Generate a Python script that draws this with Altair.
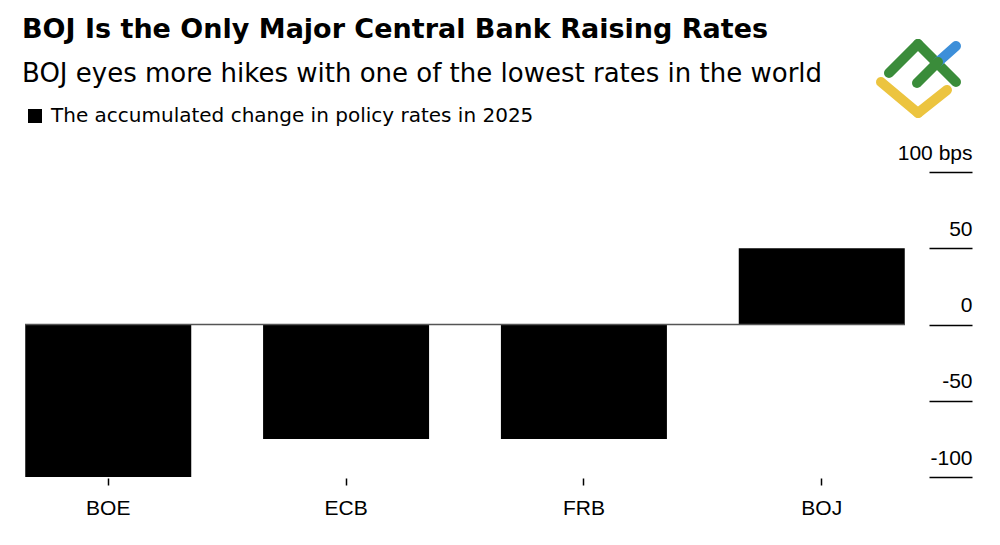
import altair as alt
import pandas as pd

banks = ["BOE", "ECB", "FRB", "BOJ"]
changes_bps = [-100, -75, -75, 50]
series_name = "The accumulated change in policy rates in 2025"
y_ticks = [-100, -50, 0, 50, 100]

df = pd.DataFrame({"bank": banks, "change": changes_bps, "series": [series_name] * len(banks)})

FONT = "Liberation Sans"
HFONT = "DejaVu Sans"
W, H = 880, 305

bars = alt.Chart(df).mark_bar(size=166).encode(
    x=alt.X("bank:N", sort=banks, title=None,
            scale=alt.Scale(paddingInner=0.3, paddingOuter=0),
            axis=alt.Axis(domain=False, tickSize=7, tickWidth=1.5, tickColor="#000",
                          labelFontSize=21, labelFont=FONT, labelColor="#000",
                          labelPadding=12, labelAngle=0, offset=1)),
    y=alt.Y("change:Q", title=None,
            scale=alt.Scale(domain=[-100, 100], nice=False),
            axis=alt.Axis(orient="right", values=y_ticks, domain=False, grid=False,
                          offset=24, tickSize=43, tickWidth=1.5, tickColor="#000",
                          labelAlign="right", labelBaseline="alphabetic", labelPadding=0,
                          labelOffset=-13, labelFontSize=21, labelFont=FONT, labelColor="#000",
                          labelExpr="datum.value == 100 ? '100 bps' : '' + datum.value")),
    color=alt.Color("series:N", title=None,
                    scale=alt.Scale(range=["#000000"]),
                    legend=alt.Legend(orient="none", legendX=0, legendY=-66,
                                      symbolType="square", symbolSize=196, symbolStrokeWidth=0,
                                      labelFontSize=20, labelFont=HFONT, labelColor="#000",
                                      labelOffset=6, labelLimit=0, padding=0)),
)

zero = alt.Chart(pd.DataFrame({"z": [0]})).mark_rule(color="#555", strokeWidth=1.3).encode(
    y="z:Q"
)

one = pd.DataFrame({"a": [0]})
def seg(x1, y1, x2, y2, color):
    return alt.Chart(one).mark_rule(color=color, strokeWidth=10, strokeCap="round").encode(
        x=alt.value(x1), y=alt.value(y1), x2=alt.value(x2), y2=alt.value(y2))

GREEN, BLUE, YELLOW = "#3a8c3a", "#3d8fd9", "#ecc43f"
logo = [
    seg(856, -90, 893, -59, YELLOW),
    seg(893, -59, 922, -82, YELLOW),
    seg(864, -99, 893, -128, GREEN),
    seg(893, -128, 931, -90, GREEN),
    seg(913, -110, 931, -126, BLUE),
    seg(892, -89, 913, -110, GREEN),
]

chart = alt.layer(bars, zero, *logo).properties(
    width=W, height=H,
    background="#ffffff",
    title=alt.Title("BOJ Is the Only Major Central Bank Raising Rates",
                    subtitle="BOJ eyes more hikes with one of the lowest rates in the world",
                    anchor="start", frame="group", dx=-3, offset=-49,
                    font=HFONT, fontSize=27, fontWeight="bold", color="#000",
                    subtitleFont=HFONT, subtitleFontSize=26, subtitleColor="#000",
                    subtitlePadding=17),
    autosize=alt.AutoSizeParams(type="none"),
    padding={"left": 17, "top": 164, "right": 80, "bottom": 50},
).configure_view(stroke="transparent", strokeWidth=0)

chart.save("out.html", embed_options={"renderer": "svg", "actions": False})
